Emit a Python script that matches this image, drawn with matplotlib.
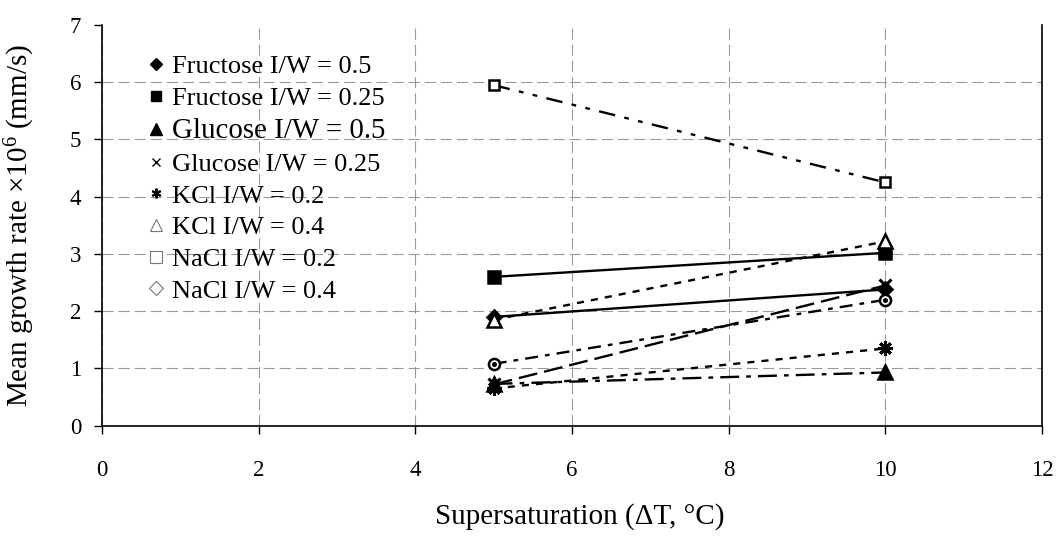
import matplotlib
matplotlib.use("Agg")
import matplotlib.pyplot as plt
from matplotlib.lines import Line2D

plt.rcParams['font.family'] = ['Liberation Serif', 'DejaVu Serif']
plt.rcParams['mathtext.fontset'] = 'custom'
plt.rcParams['mathtext.rm'] = 'Liberation Serif'
plt.rcParams['mathtext.it'] = 'Liberation Serif:italic'

# Supersaturation levels (delta T, degC)
supersaturation = [5, 10]

# Mean growth rate x1e6 (mm/s) for each system
fructose_05 = [1.90, 2.38]
fructose_025 = [2.60, 3.02]
glucose_05 = [0.73, 0.93]
glucose_025 = [0.72, 2.45]
kcl_02 = [0.65, 1.35]
kcl_04 = [1.85, 3.22]
nacl_02 = [5.95, 4.25]
nacl_04 = [1.08, 2.20]

labels = [
    "Fructose I/W = 0.5",
    "Fructose I/W = 0.25",
    "Glucose I/W = 0.5",
    "Glucose I/W = 0.25",
    "KCl I/W = 0.2",
    "KCl I/W = 0.4",
    "NaCl I/W = 0.2",
    "NaCl I/W = 0.4",
]

x_ticks = [0, 2, 4, 6, 8, 10, 12]
y_ticks = [0, 1, 2, 3, 4, 5, 6, 7]

W, H = 1059, 536
left, right, top, bottom = 102, 1042, 25, 425.7
fig = plt.figure(figsize=(W / 100, H / 100), dpi=100)
ax = fig.add_axes([left / W, 1 - bottom / H, (right - left) / W, (bottom - top) / H])

series = [
    (fructose_05, dict(marker='D', ms=7.5, mfc='black', ls='-')),
    (fructose_025, dict(marker='s', ms=8, mfc='black', ls='-')),
    (glucose_05, dict(marker='^', ms=9.5, mfc='black', ls=(0, (8, 3, 2, 3)))),
    (glucose_025, dict(marker='x', ms=8.5, mew=2.2, ls=(0, (8, 3)))),
    (kcl_02, dict(marker=(8, 2, 0), ms=10.5, mew=2.2, ls=(0, (3, 3)))),
    (kcl_04, dict(marker='^', ms=9.5, mfc='white', ls=(0, (3, 3)))),
    (nacl_02, dict(marker='s', ms=7.5, mfc='white', ls=(0, (7, 4, 2, 4, 2, 4)))),
    (nacl_04, dict(marker='o', ms=8, mfc='white', ls=(0, (5.5, 3, 2, 3)))),
]

for vals, style in series:
    ax.plot(supersaturation, vals, color='black', lw=1.7, mec='black',
            mew=style.pop('mew', 1.8), zorder=3, **style)

# Inner dot on the open circles
ax.plot(supersaturation, nacl_04, ls='none', marker='o', ms=2.6, color='black', zorder=4)

ax.set_xlim(0, 12)
ax.set_ylim(0, 7)
ax.set_xticks(x_ticks)
ax.set_yticks(y_ticks)
ax.tick_params(direction='out', length=6, width=1, labelsize=16.5, color='black')
ax.tick_params(axis='x', pad=18.5)
ax.tick_params(axis='y', pad=9)

ax.grid(True, color='#999999', ls=(0, (10, 4.5)), lw=0.8)
ax.set_axisbelow(True)
for side in ['left', 'bottom', 'right']:
    ax.spines[side].set_color('black')
    ax.spines[side].set_linewidth(1.2)
ax.spines['top'].set_visible(False)
# no gridline along the top edge
ax.yaxis.get_gridlines()[-1].set_visible(False)

ax.set_xlabel("Supersaturation (\u0394T, \u00b0C)", fontsize=21)
ax.set_ylabel("Mean growth rate \u00d710$^{6}$ (mm/s)", fontsize=21)
ax.xaxis.set_label_coords((580 - left) / (right - left), (bottom - 503) / (bottom - top))
ax.yaxis.set_label_coords((37 - left) / (right - left), 0.5)

handles = [
    Line2D([], [], ls='none', marker='D', ms=6, mfc='black', mec='black'),
    Line2D([], [], ls='none', marker='s', ms=7, mfc='black', mec='black'),
    Line2D([], [], ls='none', marker='^', ms=8, mfc='black', mec='black'),
    Line2D([], [], ls='none', marker='x', ms=6, mec='black', mew=1),
    Line2D([], [], ls='none', marker=(6, 2, 0), ms=7, mec='black', mew=1.4),
    Line2D([], [], ls='none', marker='^', ms=9, mfc='white', mec='#777777', mew=0.8),
    Line2D([], [], ls='none', marker='s', ms=8, mfc='white', mec='#777777', mew=0.8),
    Line2D([], [], ls='none', marker='D', ms=7, mfc='white', mec='#777777', mew=0.8),
]
leg = ax.legend(handles, labels, loc='upper left',
                bbox_to_anchor=((149.5 - left) / (right - left), (bottom - 55) / (bottom - top)),
                frameon=False, fontsize=19, handlelength=0.5, handletextpad=0.36,
                labelspacing=0.31, borderaxespad=0, borderpad=0)
leg.get_texts()[2].set_fontsize(20.8)

fig.savefig("out.png", dpi=100)
